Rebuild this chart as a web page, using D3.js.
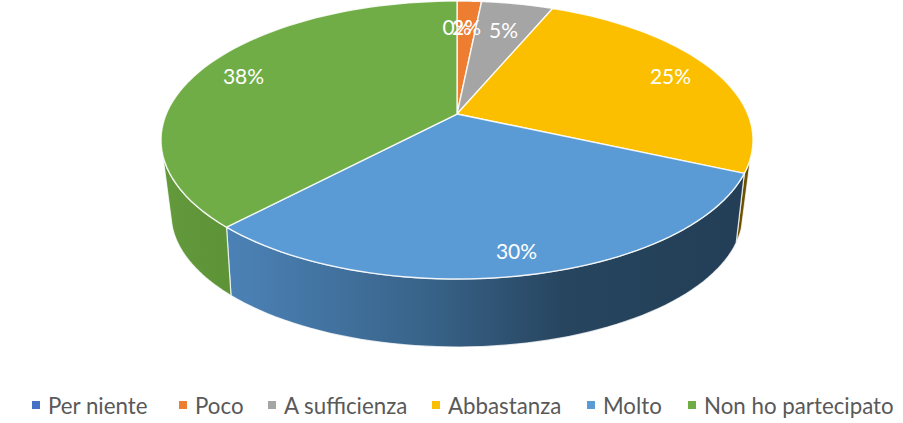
<!DOCTYPE html>
<html><head><meta charset="utf-8">
<script src="https://cdn.jsdelivr.net/npm/d3@7"></script>
<style>html,body{margin:0;padding:0;background:#fff}svg{display:block}text{font-family:Lato,"Open Sans",sans-serif}</style>
</head><body><svg id="c" width="903" height="423"></svg>
<script>
const categories = ["Per niente","Poco","A sufficienza","Abbastanza","Molto","Non ho partecipato"];
const values = [0,1.6,4.7,25.4,30.3,38];
const colors = ["#4472c4","#ed7d31","#a5a5a5","#fbbf00","#5b9bd5","#70ad47"];
const legendSwatchX = [36,183,272,436,591,692];

const svg = d3.select("#c");
const top3d = {cx:457,cy:140,rx:296,ry:139,k:-0.187};
const bot3d = {cx:457,cy:214,rx:286,ry:133,k:-0.21};
const pie = d3.pie().value(d=>d).sort(null).startAngle(0).endAngle(2*Math.PI);
const arcs = pie(values);

function proj(e,a,r=1){
  const u=r*Math.sin(a), v=-r*Math.cos(a), d=1+e.k*v;
  return [e.cx+e.rx*u*Math.sqrt(1-e.k*e.k)/d, e.cy+e.ry*(v+e.k)/d];
}
const line=d3.line();
const sample=(e,a0,a1)=>d3.range(0,61).map(i=>proj(e,a0+(a1-a0)*i/60));

const defs=svg.append("defs");
function grad(id,stops){
  const g=defs.append("linearGradient").attr("id",id).attr("gradientUnits","userSpaceOnUse")
    .attr("x1",top3d.cx-top3d.rx).attr("x2",top3d.cx+top3d.rx).attr("y1",0).attr("y2",0);
  stops.forEach(s=>g.append("stop").attr("offset",s[0]).attr("stop-color",s[1]));
}
grad("w3",[[0,"#7f6000"],[1,"#6b5100"]]);
grad("w4",[[0,"#4f86bb"],[0.15,"#4a7fb2"],[0.45,"#386389"],[0.68,"#27455f"],[1,"#233e56"]]);
grad("w5",[[0,"#639a3c"],[0.15,"#5c9136"],[1,"#5c9136"]]);

// side walls, only on the visible front part
const wallFrom=Math.PI*0.6, wallTo=Math.PI*1.406;
arcs.forEach((d,i)=>{
  const a0=Math.max(d.startAngle,wallFrom), a1=Math.min(d.endAngle,wallTo);
  if(a1<=a0) return;
  const pts=sample(top3d,a0,a1).concat(sample(bot3d,a1,a0));
  svg.append("path").attr("d",line(pts)+"Z").attr("fill",`url(#w${i})`)
    .attr("stroke","#fff").attr("stroke-opacity",0.75).attr("stroke-width",1.2).attr("stroke-linejoin","round");
});

// top face
arcs.forEach((d,i)=>{
  if(d.endAngle-d.startAngle<=0) return;
  const pts=[proj(top3d,0,0)].concat(sample(top3d,d.startAngle,d.endAngle));
  svg.append("path").attr("d",line(pts)+"Z").attr("fill",colors[i])
    .attr("stroke","#fff").attr("stroke-opacity",0.85).attr("stroke-width",1.4).attr("stroke-linejoin","round");
});

// data labels
arcs.forEach((d,i)=>{
  const mid=(d.startAngle+d.endAngle)/2;
  const front=Math.max(0,-Math.cos(mid));
  const p=proj(top3d,mid,values[i]<10?0.74:0.835+0.04*front);
  svg.append("text").attr("x",p[0]).attr("y",p[1]).attr("text-anchor","middle")
    .attr("dominant-baseline","central").attr("font-size",21).attr("fill","#fff")
    .text(Math.round(values[i])+"%");
});

// legend
categories.forEach((c,i)=>{
  const x=legendSwatchX[i];
  svg.append("rect").attr("x",x-4).attr("y",401).attr("width",8).attr("height",8).attr("fill",colors[i]);
  svg.append("text").attr("x",x+12).attr("y",405).attr("dominant-baseline","central")
    .attr("font-size",22.3).attr("fill","#595959").text(c);
});
</script></body></html>
